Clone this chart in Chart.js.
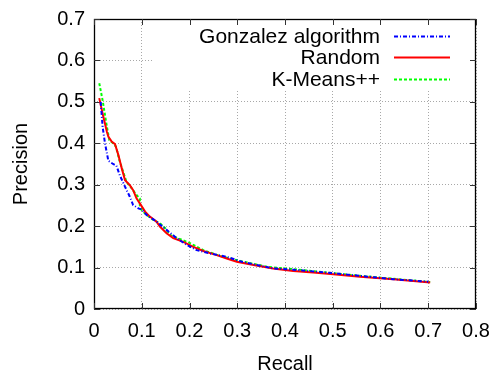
<!DOCTYPE html>
<html>
<head>
<meta charset="utf-8">
<script src="https://cdn.jsdelivr.net/npm/chart.js@4"></script>
<style>
  html, body { margin: 0; padding: 0; background: #fff; }
  #wrap { width: 491px; height: 372px; }
</style>
</head>
<body>
<div id="wrap"><canvas id="c" width="491" height="372"></canvas></div>
<script>
// ---- data ----
const seriesNames = ['Gonzalez algorithm', 'Random', 'K-Means++'];

const gonzalezRecall    = [0.014, 0.018, 0.023, 0.027, 0.030, 0.040, 0.047, 0.054, 0.065, 0.075, 0.082, 0.093, 0.100, 0.110, 0.131, 0.152, 0.173, 0.194, 0.215, 0.243, 0.278, 0.310, 0.375, 0.417, 0.487, 0.557, 0.627, 0.700];
const gonzalezPrecision = [0.500, 0.440, 0.400, 0.376, 0.358, 0.350, 0.346, 0.323, 0.295, 0.271, 0.251, 0.243, 0.240, 0.227, 0.211, 0.191, 0.171, 0.155, 0.142, 0.134, 0.126, 0.114, 0.098, 0.095, 0.088, 0.080, 0.072, 0.066];

const randomRecall    = [0.011, 0.018, 0.027, 0.030, 0.037, 0.044, 0.051, 0.058, 0.065, 0.075, 0.082, 0.089, 0.096, 0.107, 0.117, 0.131, 0.138, 0.152, 0.166, 0.187, 0.208, 0.229, 0.257, 0.278, 0.299, 0.334, 0.375, 0.417, 0.459, 0.501, 0.557, 0.627, 0.704];
const randomPrecision = [0.509, 0.472, 0.428, 0.416, 0.404, 0.398, 0.372, 0.340, 0.311, 0.299, 0.287, 0.267, 0.255, 0.235, 0.223, 0.211, 0.199, 0.183, 0.171, 0.162, 0.150, 0.140, 0.130, 0.122, 0.114, 0.106, 0.098, 0.092, 0.088, 0.084, 0.078, 0.072, 0.064];

const kmeansRecall    = [0.011, 0.018, 0.027, 0.032, 0.040, 0.046, 0.053, 0.061, 0.068, 0.079, 0.089, 0.096, 0.096, 0.100, 0.110, 0.124, 0.138, 0.149, 0.159, 0.173, 0.201, 0.229, 0.264, 0.306, 0.362, 0.417, 0.487, 0.557, 0.627, 0.704];
const kmeansPrecision = [0.545, 0.504, 0.440, 0.408, 0.400, 0.392, 0.360, 0.331, 0.307, 0.291, 0.275, 0.267, 0.250, 0.239, 0.227, 0.215, 0.207, 0.195, 0.179, 0.172, 0.159, 0.142, 0.128, 0.116, 0.102, 0.096, 0.088, 0.080, 0.073, 0.065];

const xTickLabels = ['0', '0.1', '0.2', '0.3', '0.4', '0.5', '0.6', '0.7', '0.8'];
const yTickLabels = ['0', '0.1', '0.2', '0.3', '0.4', '0.5', '0.6', '0.7'];

// ---- styling ----
const FONT = '"Liberation Sans", Arial, Helvetica, sans-serif';
const FSIZE = 20;
const LEGEND_FSIZE = 21;
const styles = [
  { color: '#0000ff', dash: [4, 2, 1, 2], width: 2 },
  { color: '#ff0000', dash: [], width: 2 },
  { color: '#00ff00', dash: [3, 2], width: 2 }
];

function pts(xs, ys) { return xs.map((x, i) => ({ x: x, y: ys[i] })); }

const dataSets = [
  pts(gonzalezRecall, gonzalezPrecision),
  pts(randomRecall, randomPrecision),
  pts(kmeansRecall, kmeansPrecision)
];

// Plugin: gnuplot-like box, inside ticks, legend area, legend
const gnuplotFrame = {
  id: 'gnuplotFrame',
  beforeDatasetsDraw(chart) {
    const { ctx, chartArea: a, scales } = chart;
    ctx.save();
    // legend box hides the grid
    ctx.fillStyle = '#ffffff';
    ctx.fillRect(152, a.top + 1, a.right - 152 - 1, 88 - a.top);
    // border
    ctx.strokeStyle = '#000';
    ctx.lineWidth = 1.3;
    ctx.strokeRect(a.left + 0.5, a.top + 0.5, a.right - a.left - 1, a.bottom - a.top - 1);
    // inside ticks
    ctx.lineWidth = 1;
    ctx.strokeStyle = '#333';
    const TL = 6;
    ctx.beginPath();
    scales.x.ticks.forEach(t => {
      const px = Math.round(scales.x.getPixelForValue(t.value)) + 0.5;
      ctx.moveTo(px, a.bottom); ctx.lineTo(px, a.bottom - TL);
      ctx.moveTo(px, a.top); ctx.lineTo(px, a.top + TL);
    });
    scales.y.ticks.forEach(t => {
      const py = Math.round(scales.y.getPixelForValue(t.value)) + 0.5;
      ctx.moveTo(a.left, py); ctx.lineTo(a.left + TL, py);
      ctx.moveTo(a.right, py); ctx.lineTo(a.right - TL, py);
    });
    ctx.stroke();
    ctx.restore();
  },
  afterDraw(chart) {
    const { ctx } = chart;
    ctx.save();
    const rows = [36, 57, 79];
    chart.data.datasets.forEach((ds, i) => {
      const y = rows[i];
      ctx.font = LEGEND_FSIZE + 'px ' + FONT;
      ctx.fillStyle = '#000';
      ctx.textAlign = 'right';
      ctx.textBaseline = 'middle';
      ctx.fillText(ds.label, 380, y + 1);
      ctx.strokeStyle = ds.borderColor;
      ctx.lineWidth = ds.borderWidth;
      ctx.setLineDash(ds.borderDash);
      ctx.beginPath();
      ctx.moveTo(394, y + 0.5);
      ctx.lineTo(450, y + 0.5);
      ctx.stroke();
      ctx.setLineDash([]);
    });
    ctx.restore();
  }
};

new Chart(document.getElementById('c'), {
  type: 'scatter',
  data: {
    datasets: dataSets.map((d, i) => ({
      label: seriesNames[i],
      data: d,
      showLine: true,
      borderColor: styles[i].color,
      backgroundColor: styles[i].color,
      borderWidth: styles[i].width,
      borderDash: styles[i].dash,
      pointRadius: 0,
      tension: 0,
      fill: false
    }))
  },
  options: {
    responsive: false,
    animation: false,
    events: [],
    layout: { padding: { top: 19, right: 15, left: 0, bottom: 0 } },
    plugins: { legend: { display: false }, tooltip: { enabled: false } },
    scales: {
      x: {
        type: 'linear',
        min: 0, max: 0.8,
        afterFit(s) { s.height = 63; s.paddingLeft = 0; s.paddingRight = 0; },
        ticks: {
          stepSize: 0.1,
          padding: 12,
          color: '#000',
          maxRotation: 0,
          autoSkip: false,
          font: { family: FONT, size: FSIZE, lineHeight: 1 },
          callback: (v, i) => xTickLabels[i]
        },
        grid: { color: '#a8a8a8', borderDash: [1, 2], drawTicks: false, lineWidth: 1 },
        border: { display: false, dash: [1, 2] },
        title: {
          display: true, text: 'Recall', color: '#000',
          font: { family: FONT, size: FSIZE, lineHeight: 1 },
          padding: { top: 0, bottom: -2 }
        }
      },
      y: {
        type: 'linear',
        min: 0, max: 0.7,
        afterFit(s) { s.width = 94; s.paddingTop = 0; s.paddingBottom = 0; },
        ticks: {
          stepSize: 0.1,
          padding: 9,
          color: '#000',
          autoSkip: false,
          font: { family: FONT, size: FSIZE, lineHeight: 1 },
          callback: (v, i) => yTickLabels[i]
        },
        grid: { color: '#a8a8a8', borderDash: [1, 2], drawTicks: false, lineWidth: 1 },
        border: { display: false, dash: [1, 2] },
        title: {
          display: true, text: 'Precision', color: '#000',
          font: { family: FONT, size: FSIZE, lineHeight: 1 },
          padding: { top: 11, bottom: 0 }
        }
      }
    }
  },
  plugins: [gnuplotFrame]
});
</script>
</body>
</html>
